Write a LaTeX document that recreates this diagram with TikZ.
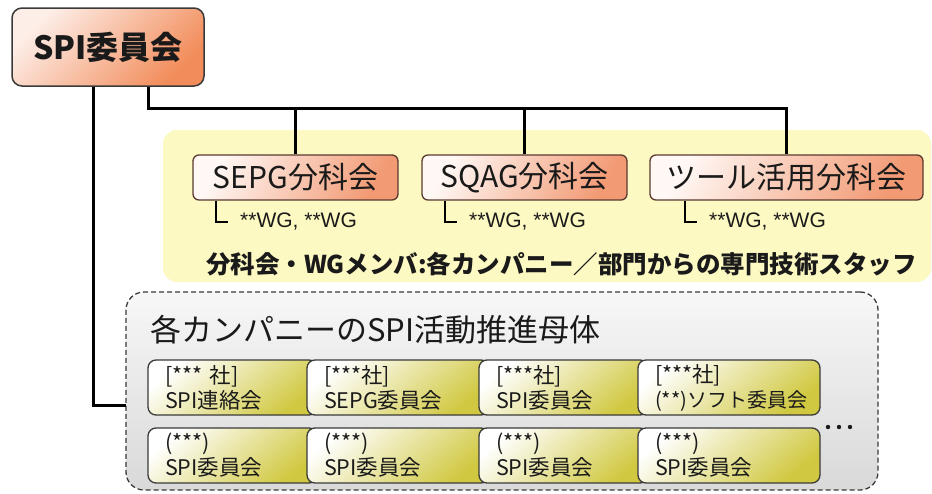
\documentclass[tikz,border=0pt]{standalone}
\usepackage{fontspec}
\setmainfont{Noto Sans CJK JP}
\newfontfamily\arialf{Liberation Sans}
\definecolor{txt}{HTML}{1A1A1A}
\definecolor{edge}{HTML}{3A3A3A}
\definecolor{subedge}{HTML}{5A3A30}
\definecolor{toplight}{HTML}{FDEEE8}
\definecolor{topdark}{HTML}{F28C5A}
\definecolor{sublight}{HTML}{FFF8F5}
\definecolor{subdark}{HTML}{F29A74}
\definecolor{bandfill}{HTML}{FDF9C2}
\definecolor{olive}{HTML}{D0C840}
\definecolor{pmtop}{HTML}{F7F7F7}
\definecolor{pmbot}{HTML}{D9D9D9}
\begin{document}
\begin{tikzpicture}[x=1pt,y=-1pt,
  conn/.style={line width=3pt, draw=black},
  wgline/.style={line width=2.5pt, draw=black},
  topbox/.style={draw=edge, line width=1.5pt, rounded corners=10pt,
    top color=toplight, bottom color=topdark, shading angle=45,
    minimum width=192pt, minimum height=78pt, inner sep=0pt, text=txt,
    font=\fontsize{32}{32}\selectfont\bfseries},
  subbox/.style={draw=subedge, line width=1.3pt, rounded corners=6pt,
    top color=sublight, bottom color=subdark, shading angle=60,
    minimum height=45pt, inner sep=0pt, text=txt,
    font=\fontsize{30}{30}\selectfont},
  band/.style={fill=bandfill, draw=none, rounded corners=14pt,
    minimum width=768pt, minimum height=152pt, inner sep=0pt},
  pmbox/.style={draw=edge, line width=1.3pt, dash pattern=on 5pt off 3pt,
    rounded corners=18pt, top color=pmtop, bottom color=pmbot,
    minimum width=752pt, minimum height=198pt, inner sep=0pt},
  cbox/.style={draw=edge, line width=1.3pt, rounded corners=8pt,
    top color=white, bottom color=olive, shading angle=40,
    minimum height=55pt, inner xsep=17pt, inner ysep=0pt, align=left,
    text=txt, font=\fontsize{21.5}{25}\selectfont},
  wgtext/.style={anchor=west, inner sep=0pt, text=txt,
    font=\arialf\fontsize{21}{21}\selectfont},
]
\useasboundingbox (0,0) rectangle (932,493);
\fill[white] (0,0) rectangle (932,493);

% background band
\node[band] (band) at (547,206) {};

% dashed company box
\node[pmbox] (pm) at (502,391) {};
\node[anchor=west, inner sep=0pt, text=txt, font=\fontsize{31}{31}\selectfont]
  (pmtitle) at (150,330) {各カンパニーのSPI活動推進母体};

% top committee
\node[topbox] (top) at (108,47) {SPI委員会};

% subcommittees
\node[subbox, minimum width=205pt] (sepg) at (295.5,177.5) {SEPG分科会};
\node[subbox, minimum width=205pt] (sqag) at (524.5,177.5) {SQAG分科会};
\node[subbox, minimum width=273pt] (tool) at (786.5,177.5) {ツール活用分科会};

% connectors
\coordinate (busR) at (786.5,108);
\coordinate (pmin) at (126,405);
\draw[conn] ([xshift=40pt]top.south) |- (busR) -- (tool.north);
\draw[conn] (sepg.north) -- (sepg.north |- busR);
\draw[conn] (sqag.north) -- (sqag.north |- busR);
\draw[conn] ([xshift=-15pt]top.south) |- (pmin);

% WG notes
\coordinate (wg1) at (228,222);
\coordinate (wg2) at (457,222);
\coordinate (wg3) at (697,222);
\draw[wgline] (sepg.south -| 216,0) |- (wg1);
\draw[wgline] (sqag.south -| 445,0) |- (wg2);
\draw[wgline] (tool.south -| 685,0) |- (wg3);
\node[wgtext] (wgt1) at (240,222) {**WG, **WG};
\node[wgtext] (wgt2) at (469,222) {**WG, **WG};
\node[wgtext] (wgt3) at (709,222) {**WG, **WG};

% members note
\node[inner sep=0pt, text=txt, font=\fontsize{24.5}{24.5}\selectfont\bfseries]
  (members) at (561.5,264) {分科会・WGメンバ:各カンパニー／部門からの専門技術スタッフ};

% company boxes, row 1
\node[cbox, text width=135pt] (c11) at (232.5,387.5) {[*** 社]\\SPI連絡会};
\node[cbox, text width=148pt] (c12) at (398,387.5) {[***社]\\SEPG委員会};
\node[cbox, text width=135pt] (c13) at (563.5,387.5) {[***社]\\SPI委員会};
\node[cbox, text width=148pt] (c14) at (729,387.5) {[***社]\\{\fontsize{20}{25}\selectfont(**)ソフト委員会}};
% row 2
\node[cbox, text width=135pt] (c21) at (232.5,455.5) {(***)\\SPI委員会};
\node[cbox, text width=148pt] (c22) at (398,455.5) {(***)\\SPI委員会};
\node[cbox, text width=135pt] (c23) at (563.5,455.5) {(***)\\SPI委員会};
\node[cbox, text width=148pt] (c24) at (729,455.5) {(***)\\SPI委員会};

% continuation dots
\fill[txt] (828,427) circle (2.2pt) (839,427) circle (2.2pt) (850,427) circle (2.2pt);
\end{tikzpicture}
\end{document}
